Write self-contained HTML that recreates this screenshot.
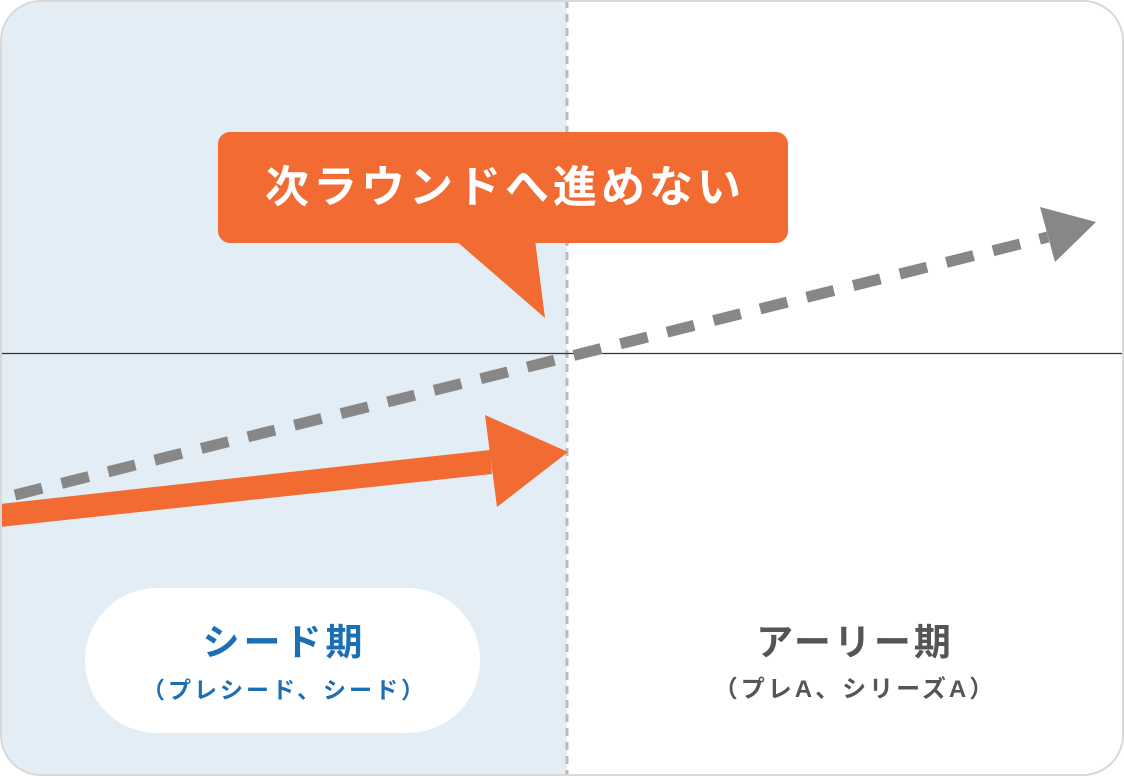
<!DOCTYPE html>
<html><head><meta charset="utf-8"><style>
body{margin:0;width:1124px;height:776px;overflow:hidden;background:#fff;font-family:"Liberation Sans","Noto Sans CJK JP",sans-serif}
.t{position:absolute;text-align:center;white-space:nowrap}
</style></head><body>
<svg width="1124" height="776" style="position:absolute;left:0;top:0">
<defs><clipPath id="c"><rect x="1" y="1" width="1122" height="774" rx="40"/></clipPath></defs>
<g clip-path="url(#c)">
<rect x="0" y="0" width="567" height="776" fill="#e3edf6"/>
<line x1="567" y1="0" x2="567" y2="776" stroke="#bbb" stroke-width="3" stroke-dasharray="8,6"/>
<line x1="0" y1="353.5" x2="1124" y2="353.5" stroke="#333" stroke-width="1.3"/>
<polygon points="0,504 490,450 492,474 0,527" fill="#f26b32"/>
<polygon points="485,415 568,452 497,507" fill="#f26b32"/>
<line x1="15" y1="495" x2="1048" y2="237" stroke="#878787" stroke-width="11" stroke-dasharray="28,20"/>
<polygon points="1040,207 1096,222 1055,262" fill="#878787"/>
<rect x="218" y="132" width="570" height="111" rx="12" fill="#f26b32"/>
<polygon points="455,240 535,240 545,318" fill="#f26b32"/>
<rect x="85" y="588" width="395" height="145" rx="72" fill="#fff"/>
</g>
<rect x="1" y="1" width="1122" height="774" rx="40" fill="none" stroke="#d8d8d8" stroke-width="2"/>
</svg>
<div class="t" style="left:218px;width:574px;top:160px;font-size:44px;letter-spacing:4px;font-weight:bold;color:#fff;line-height:56px">次ラウンドへ進めない</div>
<div class="t" style="left:85px;width:399px;top:619px;font-size:37px;letter-spacing:4px;font-weight:bold;color:#1a6fb5;line-height:48px">シード期</div>
<div class="t" style="left:85px;width:399px;top:675px;font-size:23px;letter-spacing:3px;font-weight:bold;color:#1a6fb5;line-height:30px">（プレシード、シード）</div>
<div class="t" style="left:600px;width:510px;top:619px;font-size:37px;letter-spacing:3px;font-weight:bold;color:#555;line-height:48px">アーリー期</div>
<div class="t" style="left:600px;width:510px;top:675px;font-size:24px;letter-spacing:3px;font-weight:bold;color:#555;line-height:30px">（プレA、シリーズA）</div>
</body></html>
